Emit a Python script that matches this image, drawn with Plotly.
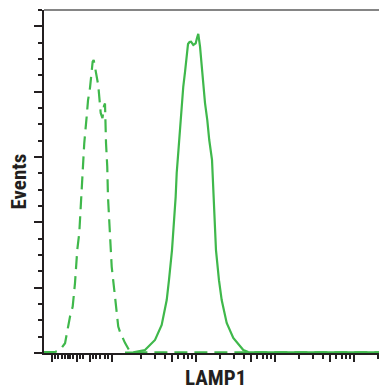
import plotly.graph_objects as go

# ---- data (LAMP1 fluorescence, events as % of max) ----
control_x = [11.9, 16.4, 19.0, 22.0, 25.4, 27.5, 29.4, 31.4, 33.3, 35.7, 36.4, 38.5, 41.3, 43.0,
             45.5, 47.5, 49.2, 50.7, 54.2, 57.9, 62.2, 65.5, 68.4, 70.5, 72.6, 75.3, 76.9,
             80.0, 85.7, 94.4, 103.7, 109.1, 126.2, 146.2, 169.0, 500, 2000, 10000, 50000, 262000]
control_y = [0.3, 0.3, 0.9, 3.0, 11.1, 14.2, 21.4, 31.5, 36.7, 48.4, 53.0, 64.2, 72.3, 77.4,
             81.1, 86.0, 89.2, 89.7, 85.8, 82.0, 73.5, 71.9, 75.6, 76.4, 64.3, 57.0, 47.8,
             39.8, 26.4, 17.2, 8.1, 6.5, 3.1, 0.4, 0.2, 0.2, 0.2, 0.2, 0.2, 0.2]

lamp1_x = [126.2, 160.7, 226, 303, 368, 426, 455, 497, 553, 570, 600, 627, 655, 690, 726,
           759, 793, 828, 865, 925, 991, 1030, 1069, 1125, 1216, 1301, 1390, 1472, 1595,
           1690, 1791, 1954, 2115, 2448, 2965, 3971, 4590, 20700, 50000, 150000, 262000]
lamp1_y = [0.15, 0.2, 0.9, 4.0, 8.6, 16.2, 22.3, 31.5, 47.8, 55.1, 62.1, 69.2, 75.9, 81.5, 86.0,
           91.2, 94.6, 95.2, 95.3, 94.3, 94.8, 96.4, 97.7, 93.8, 83.6, 76.5, 71.3, 65.2, 59.1,
           46.8, 31.5, 22.3, 16.2, 9.2, 4.6, 0.9, 0.3, 0.2, 0.2, 0.2, 0.2]

# ---- axis ticks (unlabelled) ----
x_major_ticks = [15, 31, 46, 86, 500, 1000, 5000, 10000, 50000, 100000]
x_minor_ticks = [16.4, 18.1, 20, 22, 24.2, 25.4, 28, 34, 37.4, 50, 55, 61, 70.5, 77.6,
                 200, 300, 400, 600, 700, 800, 900,
                 2000, 3000, 4000, 6000, 7000, 8000, 9000,
                 20000, 30000, 40000, 60000, 70000, 80000, 90000, 200000]
y_major_ticks = [0, 20, 40, 60, 80, 100]
y_minor_ticks = [5, 10, 15, 25, 30, 35, 45, 50, 55, 65, 70, 75, 85, 90, 95, 105]

x_title = "LAMP1"
y_title = "Events"

GREEN = "#3fb84b"
DARK = "#231f20"
FONT = "Liberation Sans Narrow, Arial Narrow, Roboto Condensed, Liberation Sans, sans-serif"

fig = go.Figure()
fig.add_trace(go.Scatter(x=control_x, y=control_y, mode="lines",
                         line=dict(color=GREEN, width=2.2, dash="13px,7px"),
                         showlegend=False, hoverinfo="skip"))
fig.add_trace(go.Scatter(x=lamp1_x, y=lamp1_y, mode="lines",
                         line=dict(color=GREEN, width=2.2),
                         showlegend=False, hoverinfo="skip"))

fig.update_xaxes(type="log", range=[1.076, 5.418], showgrid=False, zeroline=False,
                 showline=True, linecolor=DARK, linewidth=2, layer="below traces",
                 tickmode="array", tickvals=x_major_ticks, ticktext=[""] * len(x_major_ticks),
                 ticks="outside", ticklen=7, tickwidth=1.8, tickcolor=DARK,
                 minor=dict(tickmode="array", tickvals=x_minor_ticks, ticks="outside",
                            ticklen=4, tickwidth=1.8, tickcolor=DARK, showgrid=False))
fig.update_yaxes(range=[0, 105], showgrid=False, zeroline=False,
                 showline=True, linecolor=DARK, linewidth=2, layer="below traces",
                 tickmode="array", tickvals=y_major_ticks, ticktext=[""] * len(y_major_ticks),
                 ticks="outside", ticklen=8, tickwidth=2, tickcolor=DARK,
                 minor=dict(tickmode="array", tickvals=y_minor_ticks, ticks="outside",
                            ticklen=4, tickwidth=2, tickcolor=DARK, showgrid=False))

fig.add_shape(type="line", xref="paper", yref="paper", x0=0, x1=1, y0=1, y1=1,
              line=dict(color="#858585", width=2), layer="below")

fig.add_annotation(text="<b>" + x_title + "</b>", xref="paper", yref="paper",
                   x=0.5, y=-25 / 343, xanchor="center", yanchor="middle", showarrow=False,
                   font=dict(family=FONT, size=21, color=DARK))
fig.add_annotation(text="<b>" + y_title + "</b>", xref="paper", yref="paper",
                   x=-26 / 343, y=0.5, xanchor="center", yanchor="middle", showarrow=False,
                   textangle=-90, font=dict(family=FONT, size=21, color=DARK))

# page body has an 8px margin, so the figure is offset by 8px in both directions
fig.update_layout(width=379, height=382, margin=dict(l=36, r=0, t=2, b=37),
                  paper_bgcolor="white", plot_bgcolor="white")

fig.write_html("out.html")
